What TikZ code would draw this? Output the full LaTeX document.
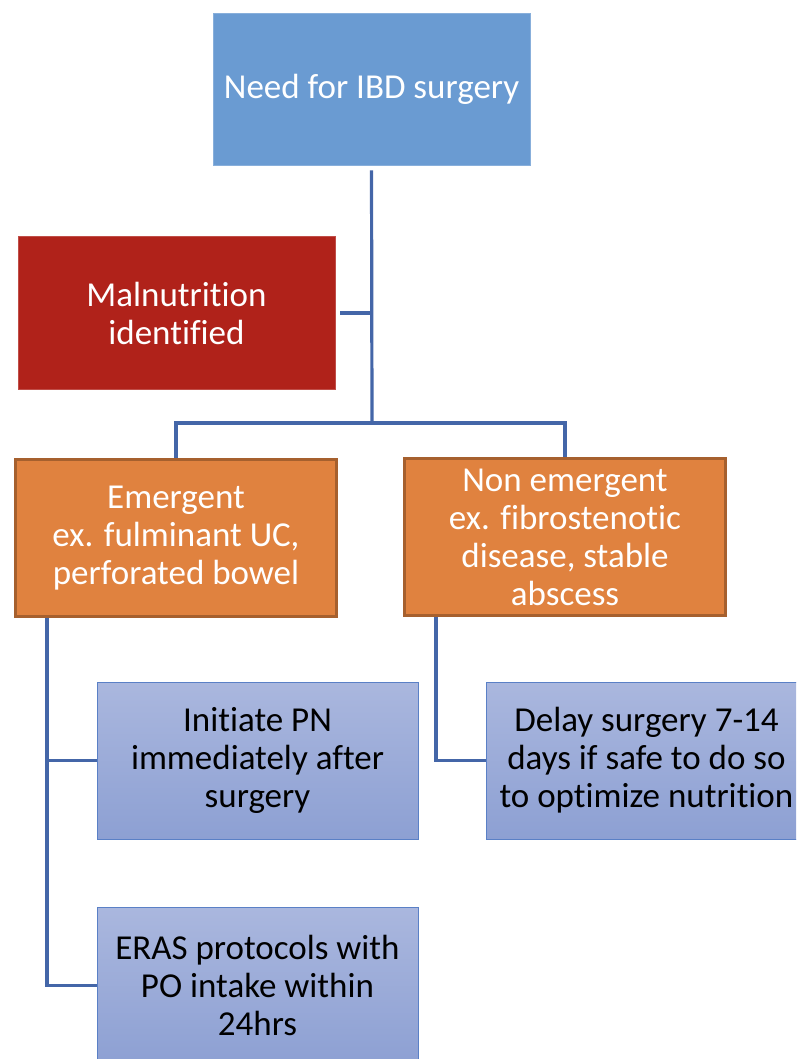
\documentclass[tikz,border=0pt]{standalone}
\usepackage{fontspec}
\setmainfont{Carlito}[Ligatures=NoCommon]
\definecolor{topblue}{HTML}{6A9BD2}
\definecolor{malred}{HTML}{B0221A}
\definecolor{orfill}{HTML}{E0823F}
\definecolor{ordraw}{HTML}{A6602E}
\definecolor{lbtop}{HTML}{AAB7DE}
\definecolor{lbbot}{HTML}{8DA0D3}
\definecolor{lbdraw}{HTML}{5A80C6}
\definecolor{connc}{HTML}{4466A8}
\begin{document}
\begin{tikzpicture}[x=1pt,y=-1pt,
  box/.style={rectangle, align=center, inner sep=0pt, font=\fontsize{35}{38}\selectfont},
  topbox/.style={box, fill=topblue, draw=topblue!80!white, line width=0.8pt, text=white, minimum width=317pt, minimum height=152pt},
  malbox/.style={box, fill=malred, draw=malred!80!white, line width=0.8pt, text=white, minimum width=317pt, minimum height=153pt},
  orbox/.style={box, fill=orfill, draw=ordraw, line width=3pt, text=white, minimum width=321pt, minimum height=157pt},
  lbbox/.style={box, top color=lbtop, bottom color=lbbot, draw=lbdraw, line width=1pt, text=black, minimum width=321pt, minimum height=157pt},
  conn/.style={draw=connc, line width=3.2pt}]
\useasboundingbox (0,0) rectangle (796,1059);
\clip (0,0) rectangle (796,1059);
\node[topbox] (top) at (371.5,89) {Need for IBD surgery};
\node[malbox] (mal) at (176.5,313) {Malnutrition\\identified};
\node[orbox] (em) at (176,538) {Emergent\\ex. fulminant UC,\\perforated bowel};
\node[orbox] (non) at (565,537) {Non emergent\\ex. fibrostenotic\\disease, stable\\abscess};
\node[lbbox] (pn) at (257.5,760.5) {Initiate PN\\immediately after\\surgery};
\node[lbbox] (delay) at (646.5,760.5) {Delay surgery 7-14\\days if safe to do so\\to optimize nutrition};
\node[lbbox] (eras) at (257.5,985.5) {ERAS protocols with\\PO intake within\\24hrs};
\coordinate (j2) at (372,423);
\draw[conn, shorten <=5pt] (top.south) -- (j2);
\draw[conn, shorten <=5pt] (mal.east) -- (mal.east -| j2);
\draw[conn] (em.north) |- (j2) -| (non.north);
\draw[conn] ([xshift=33pt]em.south west) |- (pn.west);
\draw[conn] ([xshift=33pt]em.south west) |- (eras.west);
\draw[conn] ([xshift=33pt]non.south west) |- (delay.west);
\end{tikzpicture}
\end{document}
